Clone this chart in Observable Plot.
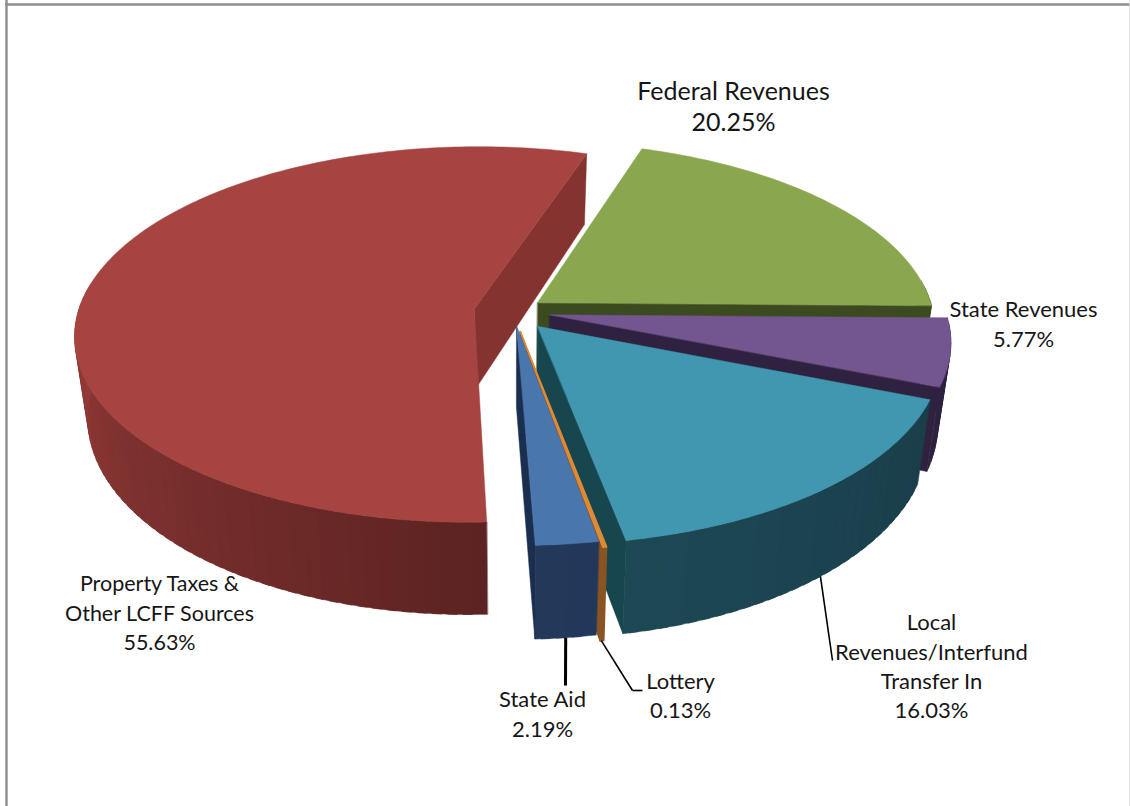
<!DOCTYPE html>
<html>
<head>
<meta charset="utf-8">
<script src="https://cdn.jsdelivr.net/npm/d3@7"></script>
<script src="https://cdn.jsdelivr.net/npm/@observablehq/plot@0.6"></script>
<style>
  html, body { margin: 0; padding: 0; background: #fff; }
  svg { display: block; }
</style>
</head>
<body>
<div id="chart"></div>
<script>
// Revenue shares, in the order they run clockwise around the pie.
const categories = ["Federal Revenues", "State Revenues", "Local Revenues/Interfund Transfer In", "Lottery", "State Aid", "Property Taxes & Other LCFF Sources"];
const shares = [20.25, 5.77, 16.03, 0.13, 2.19, 55.63];
const labelLines = [
  "Federal Revenues", "State Revenues", "Local\nRevenues/Interfund\nTransfer In",
  "Lottery", "State Aid", "Property Taxes &\nOther LCFF Sources"
];

// Colours per slice: top face, rim at its start and end, and the cut face.
const topColors = ["#8aa64e", "#73558f", "#4197b0", "#e08a35", "#4a76ae", "#a64441"];
const rimStart = ["#3c4a20", "#2f2240", "#1b3e4b", "#8a5423", "#22385a", "#5c2322"];
const rimEnd = ["#3c4a20", "#2f2240", "#1c4954", "#8a5423", "#23395a", "#973c39"];
const cutColors = ["#3c4a20", "#2f2240", "#17464f", "#8a5423", "#1a2e50", "#843331"];

// Text placement and leader lines, in chart units.
const labelX = [733, 1023, 931, 680, 542, 159];
const labelY = [90, 306.5, 620.5, 679.5, 696.5, 581.5];
const labelSize = [25, 22, 22, 22, 22, 21.5];
const lineGap = [31, 30, 29.3, 29, 30, 29.5];
const leaderEnd = [null, null, [832, 660], [632, 690], [565, 685], null];
const leaderAngle = [null, null, 139.5, 169.7, null, null];
const leaderWidth = [0, 0, 1.6, 1.6, 3, 0];

// Fine placement of each pulled-out slice.
const nudgeX = [-4.5, 1, 1.5, 1, 0, -2];
const nudgeY = [-2, -3, -1.5, 0, -6, -3];
const edgeWidth = [0.5, 0.5, 0.5, 1.6, 0.5, 0.5];

// Camera used to lay the pie on its side.
const view = {cx: 512, cy: 314, rx: 396, ry: 185, persp: 0.135, depth: 80, lean: 0.03, explode: 0.0925, rotation: 18};
const rad = (deg) => (deg * Math.PI) / 180;

function project(theta, r, z, slice) {
  const X = slice.ex + r * Math.sin(rad(theta));
  const Y = slice.ey + r * Math.cos(rad(theta));
  const s = 1 / (1 + view.persp * Y);
  const x = view.cx + view.rx * X * s + nudgeX[slice.i];
  const y = view.cy - view.ry * Y * s + nudgeY[slice.i];
  return {x: x + (view.cx - x) * view.lean * z, y: y + view.depth * s * z};
}

// Turn the shares into slices with start and end angles.
let running = view.rotation;
const slices = shares.map((share, i) => {
  const a0 = running;
  const a1 = running + (share / 100) * 360;
  running = a1;
  const mid = (a0 + a1) / 2;
  return {i, a0, a1, mid, ex: view.explode * Math.sin(rad(mid)), ey: view.explode * Math.cos(rad(mid))};
});

// Polygons are collected back to front so the nearer slices paint over the others.
const polygons = [];
const arc = (s, z) => d3.range(0, 1.0001, 1 / Math.max(2, Math.ceil(s.a1 - s.a0))).map((t) => project(s.a0 + t * (s.a1 - s.a0), 1, z, s));

for (const i of [0, 5, 1, 2, 3, 4]) {
  const s = slices[i];
  const steps = Math.max(1, Math.ceil((s.a1 - s.a0) / 2));
  const width = (s.a1 - s.a0) / steps;
  const edge = edgeWidth[i];
  for (let k = 0; k < steps; ++k) {
    const t0 = s.a0 + width * k;
    const t1 = Math.min(s.a1, t0 + width * 1.6); // overlap the next strip so no seam shows
    // Only the part of the rim that faces the viewer is drawn.
    if (Math.cos(rad(t0)) > 0.1 && Math.cos(rad(t1)) > 0.1) continue;
    // Property Taxes runs from dark at the front to light at the far left.
    const u = i === 5 ? Math.min(1, (t0 - s.a0) / 95) : k / steps;
    const color = d3.interpolateRgb(rimStart[i], rimEnd[i])(u);
    polygons.push({color, edge, pts: [project(t0, 1, 0, s), project(t1, 1, 0, s), project(t1, 1, 1, s), project(t0, 1, 1, s)]});
  }
  // The clockwise cut face is the one turned toward the viewer.
  polygons.push({color: cutColors[i], edge, pts: [project(s.a1, 0, 0, s), project(s.a1, 1, 0, s), project(s.a1, 1, 1, s), project(s.a1, 0, 1, s)]});
  polygons.push({color: topColors[i], edge, pts: [project(s.a0, 0, 0, s), ...arc(s, 0)]});
}

const labelRows = slices.map((s, i) => {
  const lines = labelLines[i].split("\n").length;
  return {
    x: labelX[i],
    y: labelY[i] + (lines * lineGap[i]) / 2,
    text: `${labelLines[i]}\n${shares[i].toFixed(2)}%`,
    size: labelSize[i],
    lineHeight: lineGap[i] / labelSize[i],
    name: categories[i]
  };
});

const leaders = slices.filter((s) => leaderEnd[s.i]).map((s) => {
  const from = project(leaderAngle[s.i] ?? s.mid, 1, 1, s);
  const [x2, y2] = leaderEnd[s.i];
  return {x1: from.x, y1: from.y, x2, y2, width: leaderWidth[s.i]};
});

const chart = Plot.plot({
  width: 1130,
  height: 806,
  margin: 0,
  x: {domain: [0, 1130], range: [0, 1130], axis: null},
  y: {domain: [0, 806], range: [0, 806], axis: null},
  marks: [
    ...polygons.map((p) => Plot.line(p.pts, {x: "x", y: "y", fill: p.color, stroke: p.color, strokeWidth: p.edge, curve: "linear-closed"})),
    ...leaders.map((l) => Plot.link([l], {x1: "x1", y1: "y1", x2: "x2", y2: "y2", stroke: "#000", strokeWidth: l.width})),
    Plot.link([leaders[1]], {x1: "x2", y1: "y2", x2: (d) => d.x2 + 10, y2: "y2", stroke: "#000", strokeWidth: 1.6}),
    ...labelRows.map((d) => Plot.text([d], {x: "x", y: "y", text: "text", lineHeight: d.lineHeight, lineAnchor: "middle", textAnchor: "middle", fontSize: d.size, fontFamily: "Lato", fill: "#161616"})),
    Plot.ruleX([6], {stroke: "#8e8e8e", strokeWidth: 2.4}),
    Plot.ruleY([4], {x1: 5, x2: 1130, stroke: "#8e8e8e", strokeWidth: 2.4}),
    Plot.ruleX([1129.5], {stroke: "#d9d9d9", strokeWidth: 1.5})
  ]
});
document.getElementById("chart").append(chart);
</script>
</body>
</html>
